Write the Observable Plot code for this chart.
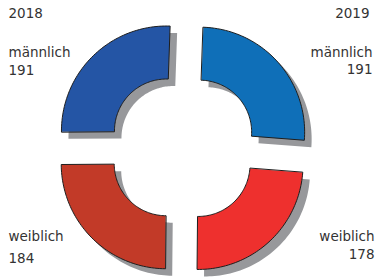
<!DOCTYPE html>
<html><head><meta charset="utf-8">
<script src="https://cdn.jsdelivr.net/npm/d3@7"></script>
<script src="https://cdn.jsdelivr.net/npm/@observablehq/plot@0.6"></script>
<style>html,body{margin:0;padding:0;background:#fff}#chart svg{display:block}</style>
</head><body><div id="chart"></div>
<script>
// Data (clockwise from top)
const slices  = ["2019 männlich", "2019 weiblich", "2018 weiblich", "2018 männlich"];
const years   = ["2019", "2019", "2018", "2018"];
const genders = ["männlich", "weiblich", "weiblich", "männlich"];
const values  = [191, 178, 184, 191];
const colors  = ["#0f6fb8", "#ee302e", "#c23a28", "#2455a5"];

const R_OUT = 105, R_IN = 52, EXPLODE = 23, SH = 7, ROT = 2 * Math.PI / 180;
const arcs = d3.pie().sort(null).startAngle(ROT).endAngle(2 * Math.PI + ROT).value(d => d)(values);

function ring(a, i, sx, sy) {
  const mid = (a.startAngle + a.endAngle) / 2;
  const ox = EXPLODE * Math.sin(mid) + sx, oy = EXPLODE * Math.cos(mid) + sy;
  const n = 60, pts = [];
  for (let k = 0; k <= n; k++) {
    const t = a.startAngle + (a.endAngle - a.startAngle) * k / n;
    pts.push({slice: slices[i], x: ox + R_OUT * Math.sin(t), y: oy + R_OUT * Math.cos(t)});
  }
  for (let k = n; k >= 0; k--) {
    const t = a.startAngle + (a.endAngle - a.startAngle) * k / n;
    pts.push({slice: slices[i], x: ox + R_IN * Math.sin(t), y: oy + R_IN * Math.cos(t)});
  }
  return pts;
}
const shapes  = arcs.flatMap((a, i) => ring(a, i, 0, 0));
const shadows = arcs.flatMap((a, i) => ring(a, i, SH, -SH));

const txt = {fontSize: 13.5, fill: "#333", lineAnchor: "bottom", text: d => d};
const chart = Plot.plot({
  width: 383, height: 278,
  margin: 0,
  style: {fontFamily: "DejaVu Sans", fontSize: "13.5px", background: "#fff"},
  x: {domain: [-182, 201], axis: null},
  y: {domain: [-131, 147], axis: null},
  color: {domain: slices, range: colors},
  marks: [
    Plot.line(shadows, {x: "x", y: "y", z: "slice", fill: "#97989b", stroke: null, curve: "linear-closed"}),
    Plot.line(shapes, {x: "x", y: "y", z: "slice", fill: "slice", stroke: "#1e1e1e", strokeWidth: 1, curve: "linear-closed"}),
    Plot.text([years[3]],          {...txt, frameAnchor: "top-left",  textAnchor: "start", dx: 8,  dy: 17}),
    Plot.text([genders[3]],        {...txt, frameAnchor: "top-left",  textAnchor: "start", dx: 8,  dy: 56}),
    Plot.text([String(values[3])], {...txt, frameAnchor: "top-left",  textAnchor: "start", dx: 8,  dy: 74}),
    Plot.text([years[0]],          {...txt, frameAnchor: "top-right", textAnchor: "end",   dx: -14, dy: 17}),
    Plot.text([genders[0]],        {...txt, frameAnchor: "top-right", textAnchor: "end",   dx: -11, dy: 56}),
    Plot.text([String(values[0])], {...txt, frameAnchor: "top-right", textAnchor: "end",   dx: -11, dy: 73}),
    Plot.text([genders[2]],        {...txt, frameAnchor: "top-left",  textAnchor: "start", dx: 8,  dy: 240}),
    Plot.text([String(values[2])], {...txt, frameAnchor: "top-left",  textAnchor: "start", dx: 8,  dy: 262}),
    Plot.text([genders[1]],        {...txt, frameAnchor: "top-right", textAnchor: "end",   dx: -9, dy: 240}),
    Plot.text([String(values[1])], {...txt, frameAnchor: "top-right", textAnchor: "end",   dx: -9, dy: 258})
  ]
});
document.getElementById("chart").append(chart);
</script>
</body></html>
